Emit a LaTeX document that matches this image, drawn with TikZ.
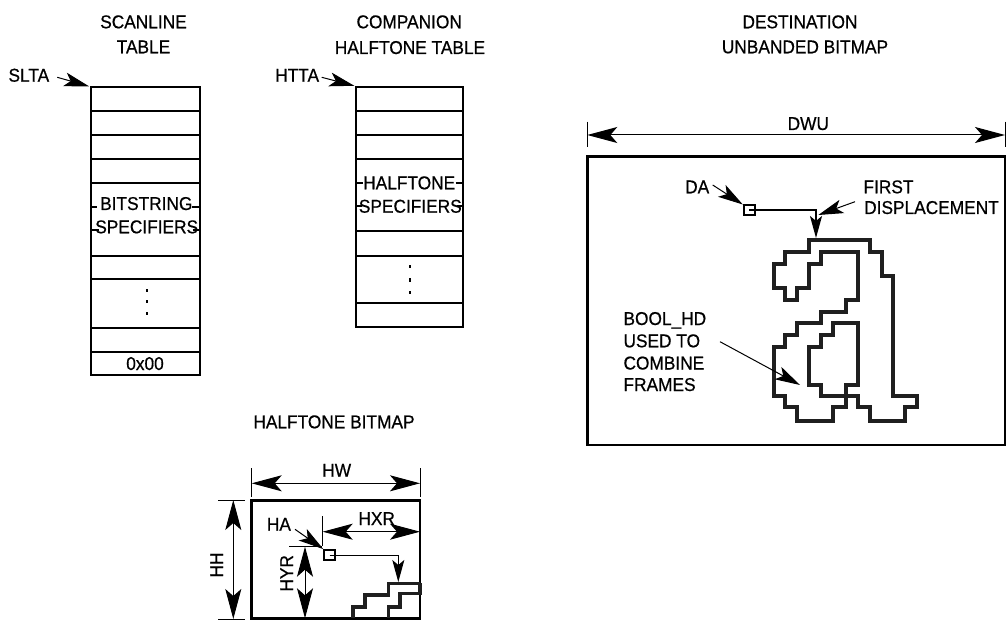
\documentclass[tikz,border=0pt]{standalone}
\usepackage{fontspec}
\setmainfont{Liberation Sans}[FakeStretch=0.93,FakeBold=0.6]
\usetikzlibrary{arrows.meta}
\begin{document}
\begin{tikzpicture}[x=1pt,y=-1pt,
  txt/.style={inner sep=0pt,font=\fontsize{18.6}{22}\selectfont},
  tbl/.style={line width=2pt},
  bigbox/.style={line width=2.5pt},
  thinl/.style={line width=1pt},
  dimhead/.tip={Stealth[length=30pt,width=16pt,inset=7pt]},
  lblhead/.tip={Stealth[length=25pt,width=14pt,inset=6pt]},
  smallhead/.tip={Stealth[length=22pt,width=12pt,inset=5pt]},
  dimline/.style={thinl,dimhead-dimhead},
  pointer/.style={thinl,-lblhead},
  glyph/.style={line width=4pt,line join=miter,color=black!88},
  dotmark/.style={fill=black,draw=none}
]
\useasboundingbox (0,0) rectangle (1008,620);

% ---------------- Scanline table ----------------
\node[txt,anchor=base] (sct1) at (143.5,28.3) {SCANLINE};
\node[txt,anchor=base] (sct2) at (143.5,53.3) {TABLE};
\node[txt,anchor=base west] (slta) at (8.3,81.7) {SLTA};
\draw[tbl] (90.7,87.3) rectangle (200,375);
\foreach \yy in {111,135,159,183.3,256,279.3,328.3,351.7}
  \draw[tbl] (90.7,\yy) -- (200,\yy);
\draw[tbl] (90.7,207.3) -- (96.7,207.3) (192,207.3) -- (200,207.3);
\draw[tbl] (90.7,230) -- (99.3,230) (192.7,230) -- (200,230);
\node[txt,anchor=base] (bits) at (146.3,210) {BITSTRING};
\node[txt,anchor=base] (specs1) at (146.7,233.3) {SPECIFIERS};
\foreach \yy in {290.7,301.7,313.3}
  \fill[dotmark] (145.7,\yy-1.7) rectangle (147.7,\yy+1.7);
\node[txt,anchor=base] (zero) at (145,370) {0x00};
\coordinate (sltatip) at (89,86.3);
\draw[pointer] (57.3,77.3) -- (sltatip);

% ---------------- Companion halftone table ----------------
\node[txt,anchor=base] (hct1) at (409.2,28.3) {COMPANION};
\node[txt,anchor=base] (hct2) at (410,54) {HALFTONE TABLE};
\node[txt,anchor=base west] (htta) at (275,81.7) {HTTA};
\draw[tbl] (355.7,87.3) rectangle (463.3,326.7);
\foreach \yy in {111,135,159,230.7,255.7,303.3}
  \draw[tbl] (355.7,\yy) -- (463.3,\yy);
\draw[tbl] (355.7,182.7) -- (363,182.7) (455.5,182.7) -- (463.3,182.7);
\draw[tbl] (355.7,206) -- (361.7,206) (457,206) -- (463.3,206);
\node[txt,anchor=base] (hts1) at (409.2,189.3) {HALFTONE};
\node[txt,anchor=base] (hts2) at (410.3,212.7) {SPECIFIERS};
\foreach \yy in {266.7,280,292.7}
  \fill[dotmark] (409,\yy-1.7) rectangle (411,\yy+1.7);
\coordinate (httatip) at (354.3,85.8);
\draw[pointer] (321.7,77.3) -- (httatip);

% ---------------- Destination unbanded bitmap ----------------
\node[txt,anchor=base] (dt1) at (800,28.3) {DESTINATION};
\node[txt,anchor=base] (dt2) at (805,53.3) {UNBANDED BITMAP};
\node[txt,anchor=base] (dwu) at (808.3,130) {DWU};
\draw[thinl] (587.3,121.7) -- (587.3,146.7);
\draw[thinl] (1005,121.7) -- (1005,146.7);
\coordinate (dwuL) at (587.3,135);
\coordinate (dwuR) at (1005,135);
\draw[dimline] (dwuL) -- (dwuR);
\draw[bigbox] (587.3,156.7) rectangle (1005,445);

% DA marker
\node[txt,anchor=base west] (da) at (685,193.3) {DA};
\node[draw,line width=2pt,minimum width=11pt,minimum height=10pt,inner sep=0pt] (dasq) at (749.3,210.5) {};
\coordinate (dabend) at (816,210.5);
\coordinate (glyphtop) at (816,238);
\draw[line width=2pt,-smallhead] (dasq.center) -- (dabend) -- (glyphtop);
\draw[pointer] (712.7,185) -- (dasq.north west);

% First displacement
\node[txt,anchor=base west] (first) at (863.3,193.3) {FIRST};
\node[txt,anchor=base west] (disp) at (864,214) {DISPLACEMENT};
\draw[pointer] (855,201.7) -- (818.3,215);

% Glyph 'a'
\draw[glyph] (809,240) -- (870,240) -- (870,251.7) -- (881.5,251.7) -- (881.5,276) -- (893,276)
  -- (893,395.5) -- (916.5,395.5) -- (916.5,407) -- (905,407) -- (905,421) -- (870,421)
  -- (870,407) -- (858,407) -- (858,395.5) -- (821,395.5) -- (821,385) -- (809,385)
  -- (809,347) -- (821,347) -- (821,335) -- (833,335) -- (833,323.3) -- (858,323.3)
  -- (858,385) -- (845.5,385) -- (845.5,407) -- (833,407) -- (833,421) -- (797,421)
  -- (797,407) -- (785,407) -- (785,395.5) -- (773.5,395.5) -- (773.5,347) -- (785,347)
  -- (785,335) -- (797,335) -- (797,323.3) -- (821,323.3) -- (821,311.7) -- (845.5,311.7)
  -- (845.5,300) -- (858,300) -- (858,251.7) -- (821,251.7) -- (821,263.5) -- (809,263.5)
  -- (809,288.3) -- (797,288.3) -- (797,300) -- (785,300) -- (785,288.3) -- (773.5,288.3)
  -- (773.5,263.5) -- (785,263.5) -- (785,251.7) -- (809,251.7) -- cycle;

% BOOL_HD label
\node[txt,anchor=base west] (b1) at (623.3,325) {BOOL\_HD};
\node[txt,anchor=base west] (b2) at (623.3,347.3) {USED TO};
\node[txt,anchor=base west] (b3) at (623.3,369.5) {COMBINE};
\node[txt,anchor=base west] (b4) at (623.3,391) {FRAMES};
\draw[pointer] (720,341.7) -- (800,385);

% ---------------- Halftone bitmap ----------------
\node[txt,anchor=base] (hbt) at (334,428.3) {HALFTONE BITMAP};
\node[txt,anchor=base] (hw) at (336.7,476.7) {HW};
\draw[thinl] (251.7,468.3) -- (251.7,497) (420,468.3) -- (420,497);
\draw[dimline] (251.7,483.3) -- (420,483.3);
\draw[bigbox] (251.7,500.7) rectangle (420,618.3);
% HH
\draw[thinl] (218.3,500) -- (245,500) (218.3,619) -- (245,619);
\draw[dimline] (233.3,500) -- (233.3,619);
\node[txt,rotate=90] (hh) at (216.7,565) {HH};
% HA
\node[txt,anchor=base west] (ha) at (266.7,530.7) {HA};
\node[draw,line width=1.8pt,minimum width=11pt,minimum height=10pt,inner sep=0pt] (hasq) at (329.7,555) {};
\draw[pointer] (295,529.3) -- (hasq.north west);
% HXR
\node[txt,anchor=base] (hxr) at (376.7,525) {HXR};
\draw[thinl] (322.7,516) -- (322.7,546);
\draw[dimline] (322.7,531.7) -- (420,531.7);
% HYR
\node[txt,rotate=90] (hyr) at (286.7,573.3) {HYR};
\draw[thinl] (289.3,546.7) -- (321.7,546.7);
\draw[dimline] (305,546.7) -- (305,618.3);
% displacement line to staircase
\coordinate (habend) at (398.3,555);
\coordinate (stairtop) at (398.3,582);
\draw[thinl,-smallhead] (hasq.center) -- (habend) -- (stairtop);
% staircase
\draw[glyph,line width=3.6pt] (420,583.3) -- (388.3,583.3) -- (388.3,595) -- (365,595) -- (365,606.7) -- (352.7,606.7) -- (352.7,618.3);
\draw[glyph,line width=3.6pt] (420,583.3) -- (420,593.3) -- (400,593.3) -- (400,606.7) -- (388.3,606.7) -- (388.3,618.3);
\end{tikzpicture}
\end{document}
